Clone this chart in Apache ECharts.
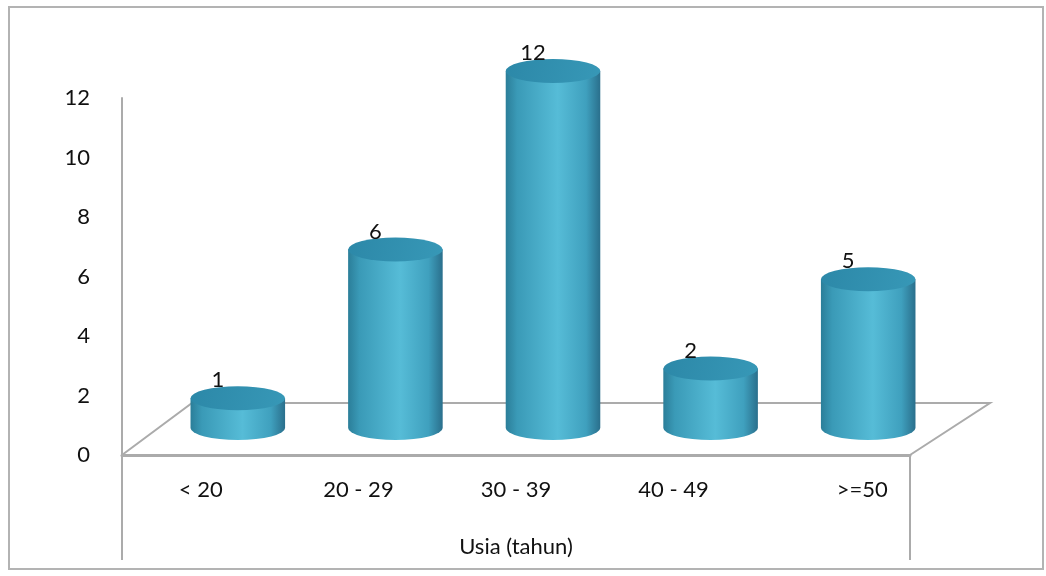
<!DOCTYPE html>
<html>
<head>
<meta charset="utf-8">
<script src="https://cdn.jsdelivr.net/npm/echarts@6/dist/echarts.min.js"></script>
<style>
  html, body { margin: 0; padding: 0; background: #fff; }
  #chart { width: 1046px; height: 576px; }
</style>
</head>
<body>
<div id="chart"></div>
<script>
// data
var categories = ['< 20', '20 - 29', '30 - 39', '40 - 49', '>=50']
var counts = [1, 6, 12, 2, 5]
var yTicks = [0, 2, 4, 6, 8, 10, 12]
var axisName = 'Usia (tahun)'

// layout of the pseudo 3d floor
var GRID = { left: 122, top: 98, width: 788, height: 357 }
var DEPTH_X = 70
var DEPTH_Y = -52
var BAR_DX = 37
var BAR_DY = -27
var RY = 12
var FONT = 'Lato, "Open Sans", sans-serif'
var LINE = '#ababab'
var TEXT = '#111'

var chart = echarts.init(document.getElementById('chart'))

function cylinder (params, api) {
  var base = api.coord([api.value(0), 0])
  var top = api.coord([api.value(0), api.value(1)])
  var rx = api.size([1, 0])[0] * 0.3
  var cx = base[0] + BAR_DX
  var by = base[1] + BAR_DY
  var ty = top[1] + BAR_DY
  var body = 'M' + (cx - rx) + ',' + ty +
    ' L' + (cx - rx) + ',' + by +
    ' A' + rx + ',' + RY + ' 0 0 0 ' + (cx + rx) + ',' + by +
    ' L' + (cx + rx) + ',' + ty + ' Z'
  var cap = 'M' + (cx - rx) + ',' + ty +
    ' A' + rx + ',' + RY + ' 0 0 1 ' + (cx + rx) + ',' + ty +
    ' A' + rx + ',' + RY + ' 0 0 1 ' + (cx - rx) + ',' + ty + ' Z'
  return {
    type: 'group',
    children: [
      {
        type: 'path',
        shape: { pathData: body },
        style: {
          fill: new echarts.graphic.LinearGradient(0, 0, 1, 0, [
            { offset: 0, color: '#2b7e99' },
            { offset: 0.12, color: '#3a9ab7' },
            { offset: 0.55, color: '#56bcd7' },
            { offset: 0.85, color: '#3fa0be' },
            { offset: 1, color: '#2a6f8c' }
          ])
        }
      },
      {
        type: 'path',
        shape: { pathData: cap },
        style: {
          fill: new echarts.graphic.LinearGradient(0, 0, 1, 1, [
            { offset: 0, color: '#2c88a8' },
            { offset: 1, color: '#3798b7' }
          ])
        }
      },
      {
        type: 'text',
        x: cx - 20,
        y: ty - RY + 5,
        z2: 10,
        style: {
          text: String(api.value(1)),
          fill: TEXT,
          font: '22px ' + FONT,
          align: 'center',
          verticalAlign: 'bottom'
        }
      }
    ]
  }
}

var x0 = GRID.left
var x1 = GRID.left + GRID.width
var y0 = GRID.top + GRID.height

var option = {
  animation: false,
  backgroundColor: '#fff',
  textStyle: { fontFamily: FONT },
  grid: {
    left: GRID.left,
    top: GRID.top,
    width: GRID.width,
    height: GRID.height,
    containLabel: false
  },
  graphic: [
    {
      type: 'rect',
      shape: { x: 9, y: 7, width: 1034, height: 562 },
      style: { fill: null, stroke: '#b3b3b3', lineWidth: 2 },
      silent: true
    },
    {
      type: 'polyline',
      shape: {
        points: [[x0, y0], [x0 + DEPTH_X, y0 + DEPTH_Y], [x1 + DEPTH_X + 10, y0 + DEPTH_Y], [x1, y0]]
      },
      style: { fill: null, stroke: LINE, lineWidth: 2 },
      silent: true
    },
    {
      type: 'line',
      shape: { x1: x0, y1: y0, x2: x0, y2: 560 },
      style: { stroke: LINE, lineWidth: 2 },
      silent: true
    },
    {
      type: 'line',
      shape: { x1: x1, y1: y0, x2: x1, y2: 560 },
      style: { stroke: LINE, lineWidth: 2 },
      silent: true
    }
  ],
  xAxis: {
    type: 'category',
    data: categories,
    axisLine: { show: true, lineStyle: { color: LINE, width: 3 } },
    axisTick: { show: false },
    axisLabel: {
      margin: 24,
      color: TEXT,
      fontSize: 22,
      fontFamily: FONT,
      formatter: function (v) {
        return v === '>=50' ? '{s|' + v + '}' : v
      },
      rich: {
        s: { padding: [0, 0, 0, 62], fontSize: 22, color: TEXT, fontFamily: FONT }
      }
    },
    name: axisName,
    nameLocation: 'middle',
    nameGap: 81,
    nameTextStyle: { color: TEXT, fontSize: 22, fontFamily: FONT }
  },
  yAxis: {
    type: 'value',
    min: yTicks[0],
    max: yTicks[yTicks.length - 1],
    interval: yTicks[1] - yTicks[0],
    axisLine: { show: true, lineStyle: { color: LINE, width: 2 } },
    axisTick: { show: false },
    splitLine: { show: false },
    axisLabel: { margin: 32, color: TEXT, fontSize: 22, fontFamily: FONT }
  },
  series: [{
    type: 'custom',
    renderItem: cylinder,
    data: counts.map(function (v, i) { return [i, v] })
  }]
}

chart.setOption(option)
</script>
</body>
</html>
